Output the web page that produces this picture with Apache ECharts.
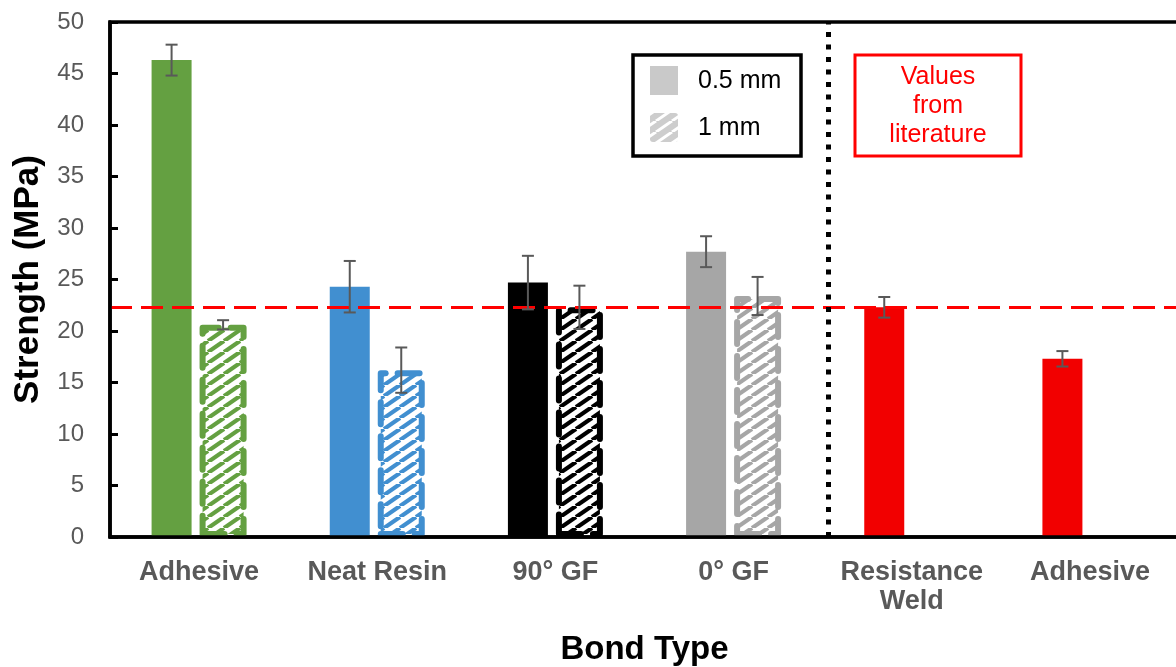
<!DOCTYPE html>
<html><head><meta charset="utf-8">
<script src="https://cdn.jsdelivr.net/npm/echarts@6/dist/echarts.min.js"></script>
<style>html,body{margin:0;padding:0;background:#fff}#c{width:1176px;height:667px}</style>
</head><body><div id="c"></div>
<script>
// ---- data ----
const categories = ['Adhesive', 'Neat Resin', '90° GF', '0° GF', 'Resistance\nWeld', 'Adhesive'];
const values05 = [46.3, 24.3, 24.7, 27.7, 22.3, 17.3];
const err05    = [1.5, 2.5, 2.6, 1.5, 1.0, 0.75];
const values1  = [20.6, 16.2, 22.3, 23.4, null, null];
const err1     = [0.45, 2.2, 2.1, 1.85, null, null];
const referenceLine = 22.3;
const dividerPos = 4.03;
const yMin = 0, yMax = 50, yInterval = 5;
const legendLabels = ['0.5 mm', '1 mm'];
const noteText = 'Values\nfrom\nliterature';
const xTitle = 'Bond Type', yTitle = 'Strength (MPa)';

// ---- styles ----
const palette = ['#64a041', '#418fd0', '#000000', '#a6a6a6', '#f20000', '#f20000'];
const FONT = "'Liberation Sans', Arial, sans-serif";
const SOLID_W = 40, HATCH_W = 47, GAP_PCT = 0.2;
const widthSum = SOLID_W * (1 + GAP_PCT) + HATCH_W;
const OFF1 = -widthSum / 2 + SOLID_W / 2;
const OFF2 = -widthSum / 2 + SOLID_W * (1 + GAP_PCT) + HATCH_W / 2;

function hatch(color, bg, lw) {
  const w = 16, h = 11;
  const c = document.createElement('canvas');
  c.width = w; c.height = h;
  const g = c.getContext('2d');
  g.fillStyle = bg; g.fillRect(0, 0, w, h);
  g.strokeStyle = color; g.lineWidth = lw;
  for (const k of [-1, 0, 1]) {
    g.beginPath(); g.moveTo(k * w, h); g.lineTo((k + 1) * w, 0); g.stroke();
  }
  return c;
}

const solidData = values05.map((v, i) => ({ value: v, itemStyle: { color: palette[i] } }));
const hatchData = values1.map((v, i) => v == null ? '-' : ({
  value: v,
  itemStyle: {
    color: { image: hatch(palette[i], '#ffffff', 4.2), repeat: 'repeat' },
    borderColor: palette[i], borderWidth: 6, borderType: [22, 12], borderCap: 'round', borderJoin: 'round'
  }
}));

function errSeries(vals, errs, offset) {
  const d = [];
  vals.forEach((v, i) => { if (v != null) d.push([i, v, errs[i]]); });
  return {
    type: 'custom', z: 6, silent: true, data: d,
    renderItem: function (params, api) {
      const i = api.value(0), v = api.value(1), e = api.value(2);
      const x = api.coord([i, v])[0] + offset;
      const yt = api.coord([i, v + e])[1];
      const yb = api.coord([i, v - e])[1];
      const st = { stroke: '#595959', lineWidth: 2 };
      return { type: 'group', children: [
        { type: 'line', shape: { x1: x, y1: yt, x2: x, y2: yb }, style: st },
        { type: 'line', shape: { x1: x - 6, y1: yt, x2: x + 6, y2: yt }, style: st },
        { type: 'line', shape: { x1: x - 6, y1: yb, x2: x + 6, y2: yb }, style: st }
      ]};
    }
  };
}

const chart = echarts.init(document.getElementById('c'), null, { renderer: 'canvas' });
chart.setOption({
  animation: false,
  backgroundColor: '#fff',
  grid: { left: 110, right: -3, top: 22, bottom: 130, containLabel: false, outerBoundsMode: 'none',
          show: true, borderColor: '#000', borderWidth: 3.5, backgroundColor: 'transparent' },
  xAxis: [{
    type: 'category', data: categories, z: 10,
    axisLine: { lineStyle: { color: '#000', width: 3.5 } },
    axisTick: { show: false },
    axisLabel: { color: '#595959', fontFamily: FONT, fontWeight: 'bold', fontSize: 27, margin: 21, lineHeight: 29, interval: 0 },
    name: xTitle, nameLocation: 'middle', nameGap: 96,
    nameTextStyle: { color: '#000', fontFamily: FONT, fontWeight: 'bold', fontSize: 33 }
  }, {
    type: 'value', min: 0, max: 6, show: false
  }],
  yAxis: {
    type: 'value', min: yMin, max: yMax, interval: yInterval, z: 10,
    axisLine: { show: true, lineStyle: { color: '#000', width: 3.5 } },
    axisTick: { show: true, inside: true, length: 8, lineStyle: { color: '#000', width: 3 } },
    splitLine: { show: false },
    axisLabel: { color: '#595959', fontFamily: FONT, fontSize: 24, margin: 26 },
    name: yTitle, nameLocation: 'middle', nameGap: 64,
    nameTextStyle: { color: '#000', fontFamily: FONT, fontWeight: 'bold', fontSize: 35 }
  },
  series: [
    {
      type: 'bar', name: legendLabels[0], data: solidData, barWidth: SOLID_W, barGap: (GAP_PCT * 100) + '%',
      markLine: {
        silent: true, symbol: 'none', label: { show: false },
        lineStyle: { color: '#ff0000', type: [22, 9], width: 3 },
        data: [{ yAxis: referenceLine }]
      }, z: 2
    },
    { type: 'bar', name: legendLabels[1], data: hatchData, barWidth: HATCH_W, barGap: (GAP_PCT * 100) + '%', z: 3 },
    errSeries(values05, err05, OFF1),
    errSeries(values1, err1, OFF2),
    {
      type: 'line', xAxisIndex: 1, data: [], silent: true,
      markLine: {
        silent: true, symbol: 'none', label: { show: false },
        lineStyle: { color: '#000', type: [5, 7.5], width: 5, cap: 'butt' },
        data: [{ xAxis: dividerPos }]
      }
    }
  ],
  graphic: [
    { type: 'rect', z: 20, shape: { x: 633, y: 55, width: 168, height: 101 }, style: { fill: '#fff', stroke: '#000', lineWidth: 3.5 } },
    { type: 'rect', z: 21, shape: { x: 650, y: 66, width: 28, height: 29 }, style: { fill: '#c9c9c9' } },
    { type: 'rect', z: 21, shape: { x: 650, y: 113, width: 28, height: 29, r: 3 }, style: { fill: { image: hatch('#ffffff', '#cdcdcd', 3), repeat: 'repeat' } } },
    { type: 'text', z: 21, x: 698, y: 81, style: { text: legendLabels[0], font: '25px ' + FONT, fill: '#000', verticalAlign: 'middle' } },
    { type: 'text', z: 21, x: 698, y: 128, style: { text: legendLabels[1], font: '25px ' + FONT, fill: '#000', verticalAlign: 'middle' } },
    { type: 'rect', z: 20, shape: { x: 855, y: 55, width: 166, height: 101 }, style: { fill: '#fff', stroke: '#ff0000', lineWidth: 3 } },
    { type: 'text', z: 21, x: 938, y: 106, style: { text: noteText, font: '25px ' + FONT, fill: '#ff0000', align: 'center', verticalAlign: 'middle', lineHeight: 29 } }
  ]
});
</script>
</body></html>
